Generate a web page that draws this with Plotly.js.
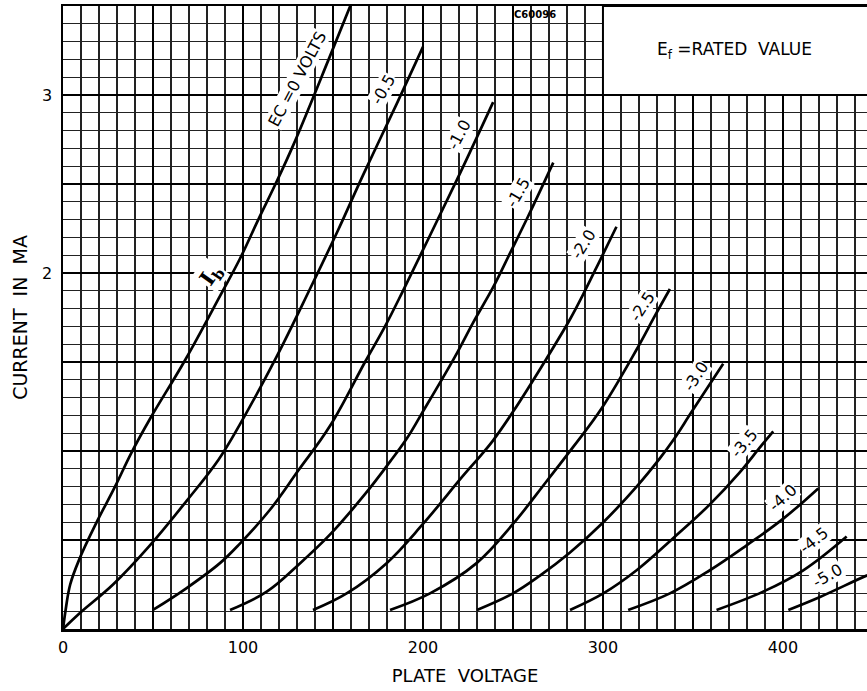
<!DOCTYPE html>
<html>
<head>
<meta charset="utf-8">
<script src="https://cdn.plot.ly/plotly-3.0.1.min.js"></script>
<style>html,body{margin:0;padding:0;background:#fff;}#chart{width:867px;height:691px;}</style>
</head>
<body>
<div id="chart"></div>
<script>
// Grid voltage (Ec) of each curve
const gridVolts = ['0', '-0.5', '-1.0', '-1.5', '-2.0', '-2.5', '-3.0', '-3.5', '-4.0', '-4.5', '-5.0'];

// Plate voltage (V) / plate current (mA)
const ec00_v = [0, 1.5, 4, 9, 18.7, 28.9, 38, 48.3, 67.8, 87.2, 98.3, 108.5, 117.6, 128, 148, 160];
const ec00_i = [0, 0.11, 0.25, 0.39, 0.60, 0.80, 0.99, 1.18, 1.51, 1.87, 2.08, 2.30, 2.49, 2.72, 3.21, 3.51];
const ec05_v = [0, 9.4, 27.8, 48.3, 68.7, 86.3, 98.3, 118.7, 137.2, 152.8, 166.7, 185.4, 200];
const ec05_i = [0, 0.09, 0.25, 0.47, 0.72, 0.95, 1.15, 1.53, 1.91, 2.24, 2.55, 2.95, 3.27];
const ec10_v = [50, 68.7, 87.2, 98.3, 115, 130.7, 148.3, 167.8, 178.9, 188.9, 200, 218.7, 239];
const ec10_i = [0.107, 0.23, 0.37, 0.48, 0.67, 0.89, 1.14, 1.50, 1.70, 1.90, 2.13, 2.52, 2.96];
const ec15_v = [92.8, 113.2, 130.7, 148.3, 168, 181.7, 191, 199.3, 217.8, 227.8, 239, 248.3, 258.5, 272.4];
const ec15_i = [0.107, 0.21, 0.36, 0.53, 0.76, 0.94, 1.07, 1.21, 1.53, 1.72, 1.92, 2.11, 2.32, 2.62];
const ec20_v = [138.9, 157.6, 179.8, 200, 222.2, 231.7, 239, 250, 268.7, 281.7, 289, 298.3, 307.5];
const ec20_i = [0.107, 0.20, 0.37, 0.59, 0.86, 0.97, 1.06, 1.22, 1.52, 1.74, 1.88, 2.07, 2.26];
const ec25_v = [181.7, 203.9, 229.8, 250, 268.7, 284, 299.3, 318.7, 328.9, 337.2];
const ec25_i = [0.107, 0.20, 0.37, 0.59, 0.83, 1.03, 1.24, 1.57, 1.76, 1.91];
const ec30_v = [230, 250, 265, 281.7, 300.2, 318.7, 331.7, 339, 349.3, 366.8];
const ec30_i = [0.107, 0.20, 0.30, 0.43, 0.60, 0.80, 0.96, 1.06, 1.22, 1.49];
const ec35_v = [281.7, 300.2, 318.7, 339, 359.4, 376, 387.2, 394.6];
const ec35_i = [0.107, 0.20, 0.33, 0.51, 0.70, 0.88, 1.02, 1.11];
const ec40_v = [314, 337.2, 359.4, 379.8, 400.2, 419.6];
const ec40_i = [0.107, 0.20, 0.33, 0.47, 0.62, 0.79];
const ec45_v = [363.1, 389, 411.3, 435.4];
const ec45_i = [0.107, 0.21, 0.33, 0.52];
const ec50_v = [403, 420.6, 446.5, 452];
const ec50_i = [0.107, 0.18, 0.30, 0.32];

// Axis ticks
const xTickVals = [0, 50, 100, 150, 200, 250, 300, 350, 400, 450];
const xTickText = ['0', '', '100', '', '200', '', '300', '', '400', ''];
const yTickVals = [0, 0.5, 1, 1.5, 2, 2.5, 3, 3.5];
const yTickText = ['', '', '', '', '2', '', '3', ''];

const seriesV = [ec00_v, ec05_v, ec10_v, ec15_v, ec20_v, ec25_v, ec30_v, ec35_v, ec40_v, ec45_v, ec50_v];
const seriesI = [ec00_i, ec05_i, ec10_i, ec15_i, ec20_i, ec25_i, ec30_i, ec35_i, ec40_i, ec45_i, ec50_i];

const FONT = 'DejaVu Sans, Liberation Sans, sans-serif';

const traces = seriesV.map((v, k) => ({
  x: v, y: seriesI[k], type: 'scatter', mode: 'lines',
  name: 'Ec=' + gridVolts[k],
  line: {color: '#000', width: 2.7, shape: 'spline', smoothing: 1.1},
  showlegend: false, hoverinfo: 'skip'
}));

// curve labels: [x, y, angle]
const labelPlaces = [
  [130.5, 3.09, -62], [178, 3.03, -60], [220, 2.78, -62], [253, 2.45, -60],
  [289, 2.16, -58], [322, 1.81, -57], [351.5, 1.42, -57], [378.5, 1.04, -50],
  [400, 0.74, -42], [417, 0.50, -38], [425, 0.30, -30]
];
const annotations = gridVolts.map((g, k) => ({
  x: labelPlaces[k][0], y: labelPlaces[k][1], xref: 'x', yref: 'y',
  text: k === 0 ? 'EC =0 VOLTS' : g, textangle: labelPlaces[k][2],
  showarrow: false, bgcolor: '#fff', borderpad: 0,
  font: {family: FONT, size: 16, color: '#000'}
}));
annotations.push({x: 82.5, y: 1.99, xref: 'x', yref: 'y', text: '<b>I<sub>b</sub></b>', textangle: -55,
  showarrow: false, bgcolor: '#fff', font: {family: 'DejaVu Serif, serif', size: 21, color: '#000'}});
annotations.push({x: 373, y: 3.25, xref: 'x', yref: 'y', text: 'E<sub>f</sub> =RATED  VALUE',
  showarrow: false, font: {family: FONT, size: 17, color: '#000'}});
annotations.push({x: 262, y: 3.455, xref: 'x', yref: 'y', text: '<b>C60096</b>',
  showarrow: false, font: {family: FONT, size: 10, color: '#000'}});

const layout = {
  width: 867, height: 691,
  margin: {l: 63, r: 0, t: 6, b: 62},
  paper_bgcolor: '#fff', plot_bgcolor: '#fff',
  showlegend: false,
  font: {family: FONT, color: '#000'},
  xaxis: {
    range: [0, 446.7], tickvals: xTickVals, ticktext: xTickText,
    ticks: '', showgrid: true, gridcolor: '#000', gridwidth: 2.2,
    minor: {dtick: 10, tick0: 0, showgrid: true, gridcolor: '#222', gridwidth: 1.2},
    showline: true, linecolor: '#000', linewidth: 2.5, mirror: true,
    zeroline: false, tickfont: {family: FONT, size: 16, color: '#000'},
    ticklabelstandoff: 2,
    title: {text: 'PLATE  VOLTAGE', font: {family: FONT, size: 18, color: '#000'}, standoff: 14}
  },
  yaxis: {
    range: [0, 3.5], tickvals: yTickVals, ticktext: yTickText,
    ticks: '', showgrid: true, gridcolor: '#000', gridwidth: 2.2,
    minor: {dtick: 0.1, tick0: 0, showgrid: true, gridcolor: '#222', gridwidth: 1.2},
    showline: true, linecolor: '#000', linewidth: 2.5,
    zeroline: false, tickfont: {family: FONT, size: 16, color: '#000'},
    ticklabelstandoff: 5,
    title: {text: 'CURRENT  IN  MA', font: {family: FONT, size: 19, color: '#000'}, standoff: 10}
  },
  shapes: [{type: 'rect', xref: 'x', yref: 'y', x0: 300, x1: 470, y0: 3.0, y1: 3.5,
    fillcolor: '#fff', line: {color: '#000', width: 2}, layer: 'above'}],
  annotations: annotations
};

Plotly.newPlot('chart', traces, layout, {staticPlot: true, displayModeBar: false});
</script>
</body>
</html>
